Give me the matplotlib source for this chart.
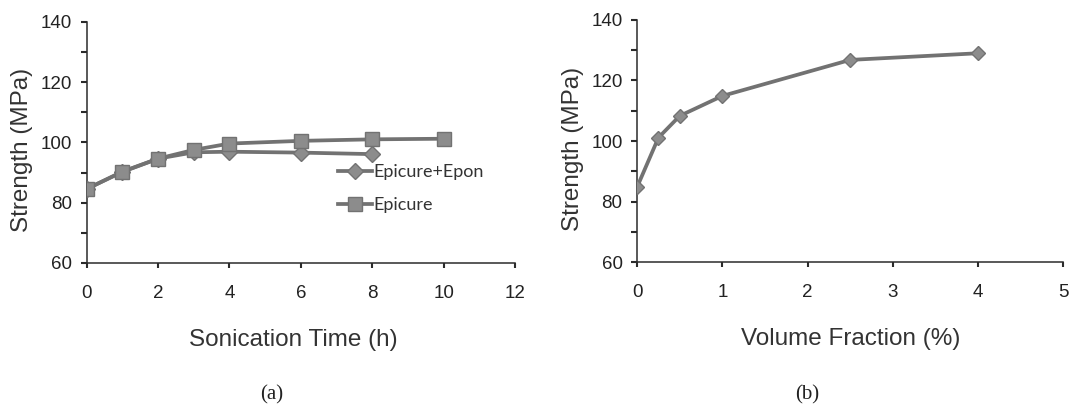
#!/usr/bin/env python
import matplotlib
matplotlib.use("Agg")
import matplotlib.pyplot as plt
from matplotlib.ticker import MultipleLocator

# (a) strength vs sonication time
t_epon = [0, 1, 2, 3, 4, 6, 8]
s_epon = [84.6, 90.2, 94.6, 96.7, 96.9, 96.6, 96.1]
t_epicure = [0, 1, 2, 3, 4, 6, 8, 10]
s_epicure = [84.5, 90.3, 94.6, 97.5, 99.6, 100.5, 101.0, 101.2]
labels_a = ["Epicure+Epon", "Epicure"]

# (b) strength vs volume fraction
vf = [0, 0.25, 0.5, 1, 2.5, 4]
s_vf = [84.8, 101.1, 108.3, 114.9, 126.8, 129.0]

LINE = "#727272"
FACE = "#8c8c8c"
AX = "#2b2b2b"

plt.rcParams["font.family"] = ["Liberation Sans", "DejaVu Sans"]

fig = plt.figure(figsize=(10.69, 4.16), dpi=100)
axa = fig.add_axes([0.0811, 0.3678, 0.4007, 0.5800])
axb = fig.add_axes([0.5960, 0.3700, 0.3985, 0.5820])


def style(ax, xmax, xstep):
    for s in ("top", "right"):
        ax.spines[s].set_visible(False)
    for s in ("left", "bottom"):
        ax.spines[s].set_color(AX)
        ax.spines[s].set_linewidth(1.1)
    ax.set_ylim(60, 140)
    ax.set_xlim(0, xmax)
    ax.yaxis.set_major_locator(MultipleLocator(20))
    ax.yaxis.set_minor_locator(MultipleLocator(10))
    ax.xaxis.set_major_locator(MultipleLocator(xstep))
    ax.tick_params(axis="y", which="both", direction="out", length=4.5,
                   width=1.5, color=AX, labelsize=13.5, pad=6, labelcolor="#222222")
    ax.tick_params(axis="x", which="both", direction="out", length=3.5,
                   width=1.5, color=AX, labelsize=13.5, pad=12, labelcolor="#222222")
    ax.set_ylabel("Strength (MPa)", fontsize=17.5, color="#333333")
    ax.yaxis.set_label_coords(-0.15, 0.468)
    ax.yaxis.label.set_va("center")


style(axa, 12, 2)
style(axb, 5, 1)

axa.plot(t_epon, s_epon, color=LINE, lw=2.7, marker="D", ms=8,
         mfc=FACE, mec=LINE, label=labels_a[0], zorder=3)
axa.plot(t_epicure, s_epicure, color=LINE, lw=2.7, marker="s", ms=9.5,
         mfc=FACE, mec=LINE, label=labels_a[1], zorder=3)
leg = axa.legend(loc="upper left", bbox_to_anchor=(0.587, 0.41), frameon=False,
                 borderpad=0, borderaxespad=0, handlelength=1.9, handletextpad=0.05,
                 labelspacing=0.95, prop={"family": "Lato", "size": 13})
for txt in leg.get_texts():
    txt.set_color("#333333")

axb.plot(vf, s_vf, color=LINE, lw=2.7, marker="D", ms=7,
         mfc=FACE, mec=LINE, zorder=3)

axa.set_xlabel("Sonication Time (h)", fontsize=17.5, color="#333333")
axa.xaxis.set_label_coords(0.4817, -0.319)
axa.xaxis.label.set_va("center")
axb.set_xlabel("Volume Fraction (%)", fontsize=17.5, color="#333333")
axb.xaxis.set_label_coords(0.502, -0.319)
axb.xaxis.label.set_va("center")

fig.text(0.2545, 0.05, "(a)", fontsize=15, family="Liberation Serif",
         ha="center", va="center", color="#222222")
fig.text(0.755, 0.05, "(b)", fontsize=15, family="Liberation Serif",
         ha="center", va="center", color="#222222")

fig.savefig("out.png", dpi=100)
